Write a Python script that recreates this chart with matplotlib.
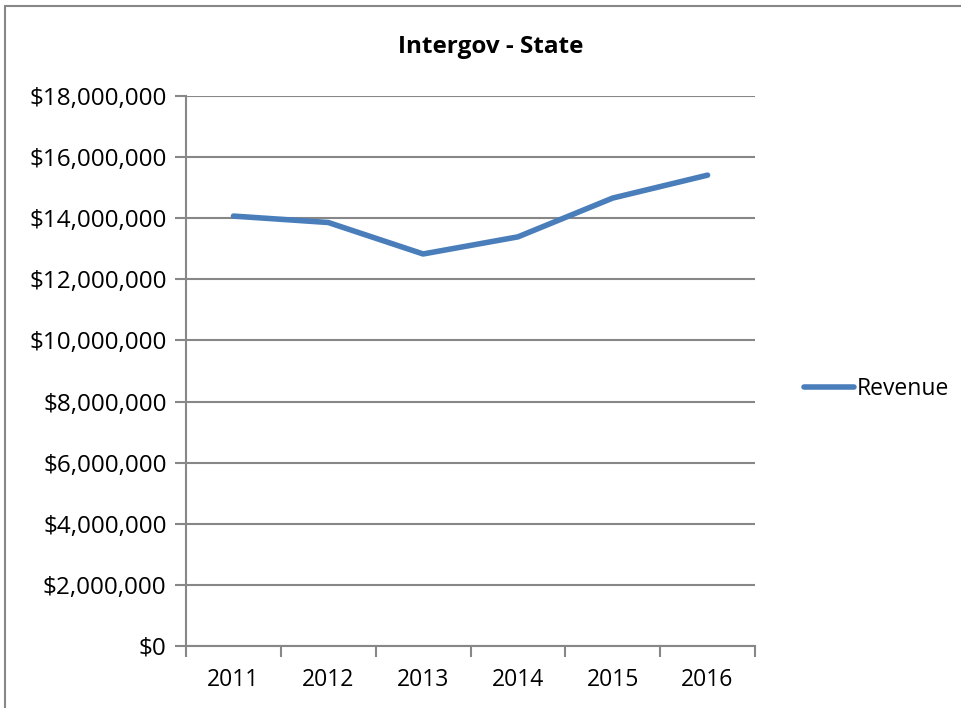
import matplotlib.pyplot as plt
from matplotlib.ticker import FuncFormatter
from matplotlib.patches import Rectangle

plt.rcParams['font.family'] = ['Open Sans', 'DejaVu Sans']

years = ['2011', '2012', '2013', '2014', '2015', '2016']
revenue = [14070000, 13860000, 12830000, 13390000, 14660000, 15410000]

blue = '#4A7EBB'
grid_gray = '#878787'

fig = plt.figure(figsize=(9.61, 7.08), dpi=100)
ax = fig.add_axes([0.1936, 0.0876, 0.592, 0.7768])

x = list(range(len(years)))
ax.plot(x, revenue, color=blue, linewidth=4, solid_capstyle='round',
        solid_joinstyle='round', label='Revenue')

ax.set_xlim(-0.5, len(years) - 0.5)
ax.set_ylim(0, 18000000)
ax.set_yticks(range(0, 18000001, 2000000))
ax.yaxis.set_major_formatter(FuncFormatter(lambda v, p: '${:,.0f}'.format(v)))

# category axis: ticks sit between the categories
ax.set_xticks([i - 0.5 for i in range(len(years) + 1)])
ax.set_xticklabels([])
ax.set_xticks(x, minor=True)
ax.set_xticklabels(years, minor=True)
ax.tick_params(axis='x', which='minor', length=0, pad=16, labelsize=16.5)
ax.tick_params(axis='x', which='major', length=8, width=1.5, color=grid_gray, direction='out')
ax.tick_params(axis='y', length=8, width=1.5, color=grid_gray, labelsize=17.5, pad=6)

ax.grid(axis='y', color=grid_gray, linewidth=1.5)
ax.set_axisbelow(True)
for s in ['top', 'right']:
    ax.spines[s].set_visible(False)
for s in ['left', 'bottom']:
    ax.spines[s].set_color(grid_gray)
    ax.spines[s].set_linewidth(1.5)

fig.text(0.511, 0.934, 'Intergov - State', ha='center', va='center',
         fontsize=17.5, fontweight='bold')

leg = ax.legend(loc='center left', bbox_to_anchor=(1.05, 0.467), frameon=False,
                fontsize=16.5, handlelength=2.2, handletextpad=0.1)

# chart border
fig.patches.append(Rectangle((0.005, -0.01), 1.2, 1.0015, transform=fig.transFigure,
                             fill=False, edgecolor=grid_gray, linewidth=1.5))

fig.savefig('out.png', dpi=100)
